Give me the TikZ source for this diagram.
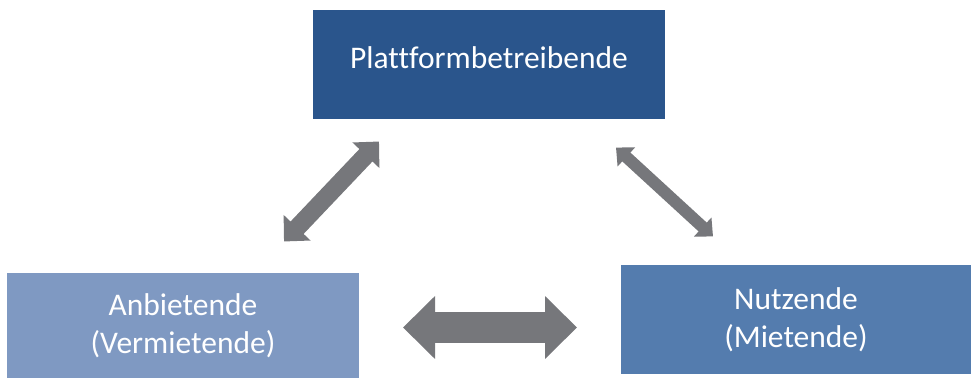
\documentclass[tikz,border=0pt]{standalone}
\usepackage{fontspec}
\setmainfont{Carlito}[Ligatures={NoCommon}]
\usetikzlibrary{arrows.meta}

\definecolor{boxdark}{RGB}{42,85,140}
\definecolor{boxlight}{RGB}{127,153,194}
\definecolor{boxmid}{RGB}{84,124,174}
\definecolor{arrowgray}{RGB}{118,119,123}

\tikzset{
  rolebox/.style={rectangle, inner sep=0pt, text=white, align=center,
    font=\fontsize{31.5}{38.5}\selectfont},
  % double-headed block arrow: shaft width, head length, head width
  fatarrow/.style n args={3}{draw=arrowgray, line cap=butt, line width=#1,
    {Triangle[length=#2,width=#3]}-{Triangle[length=#2,width=#3]}},
}

\begin{document}
\begin{tikzpicture}[x=1pt, y=-1pt]
  \useasboundingbox (0,0) rectangle (971,379);

  % the three parties
  \node[rolebox, fill=boxdark, minimum width=352pt, minimum height=109pt,
        text height=22pt, text depth=13pt] (operator) at (489,64.5)
        {Plattformbetreibende};
  \node[rolebox, fill=boxlight, minimum width=352pt, minimum height=105pt]
        (provider) at (183,325.5) {Anbietende\\(Vermietende)};
  \node[rolebox, fill=boxmid, minimum width=350pt, minimum height=109pt]
        (user) at (796,319.5) {Nutzende\\(Mietende)};

  % end points of the exchange arrows
  \coordinate (pu) at (379,141.5);
  \coordinate (pl) at (284,241.5);
  \coordinate (ou) at (616,147.5);
  \coordinate (ol) at (713,236.5);
  \coordinate (hl) at (403,327.5);
  \coordinate (hr) at (577,327.5);

  \draw[fatarrow={18pt}{19pt}{36pt}] (pl) -- (pu);
  \draw[fatarrow={12pt}{14pt}{25pt}] (ou) -- (ol);
  \draw[fatarrow={31pt}{32pt}{61pt}] (hl) -- (hr);
\end{tikzpicture}
\end{document}
